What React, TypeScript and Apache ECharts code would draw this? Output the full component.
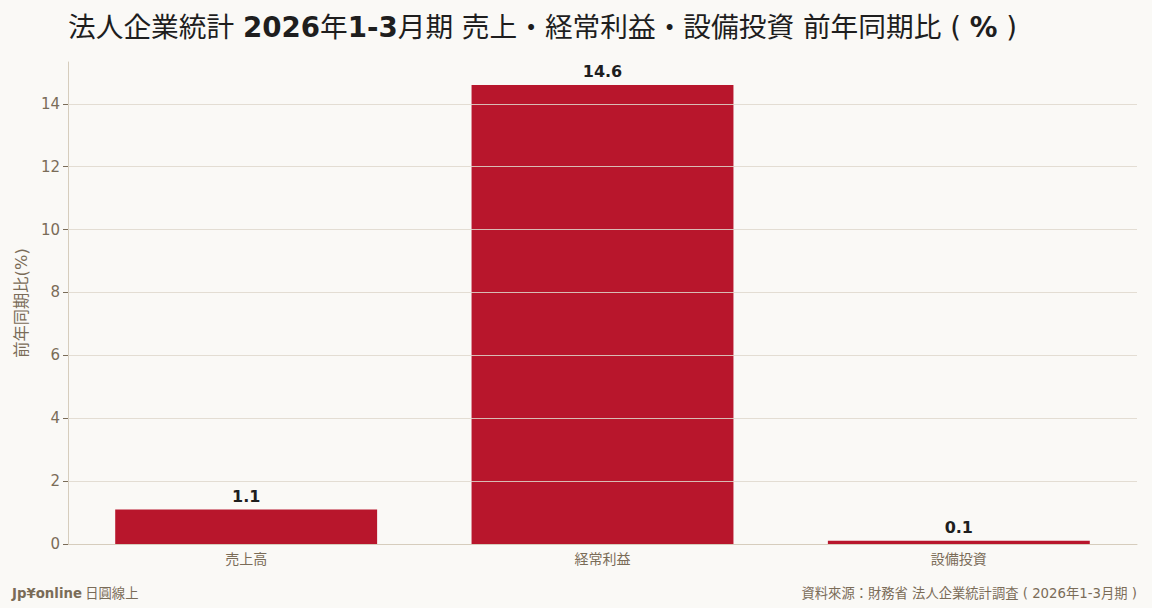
import { useEffect, useRef } from 'react';
import * as echarts from 'echarts';

const CATEGORIES = ['売上高', '経常利益', '設備投資'];
const VALUES = [1.1, 14.6, 0.1];
const Y_TICKS = [0, 2, 4, 6, 8, 10, 12, 14];

const FONT = '"DejaVu Sans", "Noto Sans CJK JP", sans-serif';
const BG = '#faf9f6';
const BAR = '#b8162c';
const AXIS = '#d6cdbd';
const GRID = 'rgba(222,216,204,0.85)';
const MUTED = '#7a6c58';
const DARK = '#1e1e1e';

export default function App() {
  const chartRef = useRef<HTMLDivElement>(null);

  useEffect(() => {
    if (!chartRef.current) return;
    const chart = echarts.init(chartRef.current, undefined, { renderer: 'svg' });
    const yMax = Math.max(...VALUES) * 1.05;

    chart.setOption({
      animation: false,
      backgroundColor: BG,
      textStyle: { fontFamily: FONT },
      title: {
        left: 63,
        top: 9,
        text:
          '{n|法人企業統計 }{b|2026}{n|年}{b|1-3}{n|月期 売上・経常利益・設備投資 前年同期比 ( }{b|%}{n| )}',
        textStyle: {
          fontWeight: 'normal',
          rich: {
            n: { fontFamily: FONT, fontSize: 27.7, fontWeight: 'normal', color: DARK },
            b: { fontFamily: FONT, fontSize: 27.7, fontWeight: 'bold', color: DARK },
          },
        },
      },
      grid: { left: 68, right: 15, top: 62, bottom: 64 },
      xAxis: {
        type: 'category',
        data: CATEGORIES,
        axisLine: { lineStyle: { color: AXIS } },
        axisTick: { alignWithLabel: true, length: 4, lineStyle: { color: MUTED } },
        axisLabel: { color: MUTED, fontSize: 14, margin: 8, fontFamily: FONT },
      },
      yAxis: {
        type: 'value',
        min: 0,
        max: yMax,
        interval: 2,
        name: '前年同期比(%)',
        nameLocation: 'middle',
        nameGap: 36,
        nameRotate: 90,
        nameTextStyle: { color: MUTED, fontSize: 16.3, fontFamily: FONT },
        axisLine: { show: true, lineStyle: { color: AXIS } },
        axisTick: { show: true, length: 5, customValues: Y_TICKS, lineStyle: { color: MUTED } },
        axisLabel: { color: MUTED, fontSize: 15, margin: 8, customValues: Y_TICKS, fontFamily: FONT },
        splitLine: { show: false },
      },
      series: [
        {
          type: 'bar',
          data: VALUES,
          barWidth: '73.5%',
          itemStyle: { color: BAR },
          label: {
            show: true,
            position: 'top',
            distance: 5,
            formatter: (p: any) => p.value.toFixed(1),
            color: DARK,
            fontSize: 16,
            fontWeight: 'bold',
            fontFamily: FONT,
          },
          markLine: {
            silent: true,
            symbol: 'none',
            label: { show: false },
            lineStyle: { color: GRID, type: 'solid', width: 1 },
            data: Y_TICKS.filter((v) => v > 0).map((v) => ({ yAxis: v })),
          },
        },
      ],
      graphic: [
        {
          type: 'text',
          left: 12,
          top: 587,
          style: {
            text: '{b|Jp¥online} {n|日圓線上}',
            rich: {
              b: { fontFamily: FONT, fontSize: 13.3, fontWeight: 'bold', fill: MUTED },
              n: { fontFamily: FONT, fontSize: 13.3, fill: MUTED },
            },
          },
        },
        {
          type: 'text',
          right: 15,
          top: 587,
          style: {
            text: '資料來源：財務省 法人企業統計調査 ( 2026年1-3月期 )',
            fontFamily: FONT,
            fontSize: 13.3,
            fill: MUTED,
          },
        },
      ],
    });

    return () => chart.dispose();
  }, []);

  return (
    <div
      ref={chartRef}
      style={{ position: 'fixed', left: 0, top: 0, width: 1152, height: 608 }}
    />
  );
}
